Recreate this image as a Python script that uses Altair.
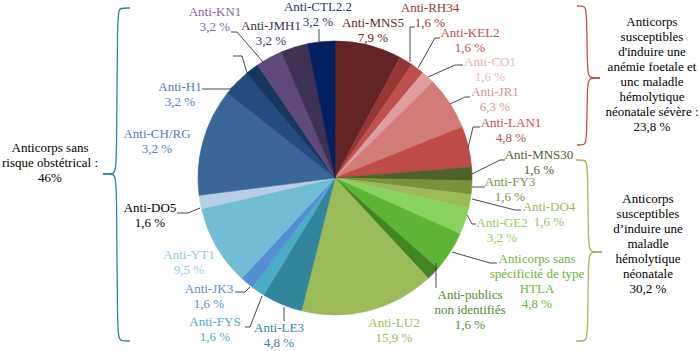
import altair as alt
import pandas as pd

# ---------------- data: pie slices, clockwise from 12 o'clock ----------------
slice_names = ["Anti-MNS5", "Anti-RH34", "Anti-KEL2", "Anti-CO1", "Anti-JR1", "Anti-LAN1",
               "Anti-MNS30", "Anti-FY3", "Anti-DO4", "Anti-GE2", "Anticorps sans spécificité HTLA",
               "Anti-publics non identifiés", "Anti-LU2",
               "Anti-LE3", "Anti-FYS", "Anti-JK3", "Anti-YT1", "Anti-DO5", "Anti-CH/RG",
               "Anti-H1", "(non étiqueté)", "Anti-KN1", "Anti-JMH1", "Anti-CTL2.2"]
slice_values = [7.9, 1.6, 1.6, 1.6, 6.3, 4.8,
                1.6, 1.6, 1.6, 3.2, 4.8, 1.6, 15.9,
                4.8, 1.6, 1.6, 9.5, 1.6, 12.7, 3.2, 1.6, 3.2, 3.2, 3.2]
slice_colors = ["#632523", "#953735", "#c0504d", "#dc9f9d", "#d27c7a", "#be4b48",
                "#4f6228", "#77933c", "#9bbb59", "#88d35f", "#5eb535", "#418524", "#9bbb59",
                "#31859c", "#4bacc6", "#558ed5", "#72bcd4", "#b9cde5", "#3a6699",
                "#234d81", "#17375e", "#604a7b", "#3f3151", "#002060"]

# ---------------- label texts ----------------
label_lines = [
    ["Anti-KN1", "3,2 %"],
    ["Anti-JMH1", "3,2 %"],
    ["Anti-CTL2.2", "3,2 %"],
    ["Anti-MNS5", "7,9 %"],
    ["Anti-RH34", "1,6 %"],
    ["Anti-KEL2", "1,6 %"],
    ["Anti-CO1", "1,6 %"],
    ["Anti-JR1", "6,3 %"],
    ["Anti-LAN1", "4,8 %"],
    ["Anti-MNS30", "1,6 %"],
    ["Anti-FY3", "1,6 %"],
    ["Anti-DO4", "1,6 %"],
    ["Anti-GE2", "3,2 %"],
    ["Anticorps sans", "spécificité de type", "HTLA", "4,8 %"],
    ["Anti-publics", "non identifiés", "1,6 %"],
    ["Anti-LU2", "15,9 %"],
    ["Anti-LE3", "4,8 %"],
    ["Anti-FYS", "1,6 %"],
    ["Anti-JK3", "1,6 %"],
    ["Anti-YT1", "9,5 %"],
    ["Anti-DO5", "1,6 %"],
    ["Anti-CH/RG", "3,2 %"],
    ["Anti-H1", "3,2 %"],
    ["Anticorps sans", "risque obstétrical :", "46%"],
    ["Anticorps", "susceptibles", "d'induire une", "anémie foetale et", "unc maladle",
     "hémolytique", "néonatale sévère :", "23,8 %"],
    ["Anticorps", "susceptibles", "d’induire une", "maladle", "hémolytique", "néonatale", "30,2 %"],
]

# ---------------- layout (positions / styles), kept apart from the data ----------------
label_pos = [(215, 12), (271, 26), (318, 7), (373, 23), (430, 8), (470, 33), (490, 62),
             (495, 92), (511, 123), (539, 155), (510, 182), (549, 207), (502, 223),
             (537, 259), (470, 295), (394, 323), (279, 328), (215, 322), (209, 289),
             (189, 255), (150, 208), (157, 134), (180, 87),
             (50, 148), (652, 22), (648, 199)]
label_colors = ["#8064a2", "#3f3151", "#1f3864", "#632523", "#953735", "#c0504d", "#e6b9b8",
                "#d99694", "#c0504d", "#4f6228", "#77933c", "#9bbb59", "#92d050",
                "#66b636", "#4f8f2c", "#9bbb59", "#31859c", "#4bacc6", "#558ed5",
                "#93cddd", "#000000", "#4f81bd", "#4f81bd",
                "#000000", "#000000", "#000000"]
LINE_H = 15

leaders = [
    [(231, 32), (237, 32), (263, 62)],
    [(319, 29), (319, 43)],
    [(233, 56), (242, 56), (247, 73)],
    [(202, 89), (230, 89), (234, 86)],
    [(415, 27), (410, 27), (410, 62)],
    [(440, 38), (435, 38), (418, 68)],
    [(463, 65), (455, 65), (428, 77)],
    [(470, 97), (465, 97), (450, 104)],
    [(480, 127), (473, 127), (468, 148)],
    [(505, 160), (500, 160), (472, 174)],
    [(485, 187), (472, 187)],
    [(521, 210), (515, 210), (472, 199)],
    [(476, 224), (472, 224), (467, 215)],
    [(497, 263), (490, 263), (452, 252)],
    [(436, 263), (436, 288)],
    [(284, 307), (284, 321)],
    [(245, 327), (250, 327), (262, 296)],
    [(235, 292), (245, 292), (250, 287)],
    [(177, 213), (188, 213), (200, 208)],
]

braces = [
    ("#31859c", [(130, 8), (120, 8), (117, 11), (117, 170), (114, 174), (103, 174)]),
    ("#31859c", [(103, 174), (114, 174), (117, 178), (117, 337), (120, 341), (130, 341)]),
    ("#c0504d", [(577, 6), (584, 6), (587, 9), (587, 74), (590, 78), (600, 78)]),
    ("#c0504d", [(600, 78), (590, 78), (587, 82), (587, 142), (584, 145), (577, 145)]),
    ("#9bbb59", [(576, 160), (585, 160), (588, 163), (588, 248), (591, 252), (602, 252)]),
    ("#9bbb59", [(602, 252), (591, 252), (588, 256), (588, 338), (585, 341), (576, 341)]),
]

W, H = 700, 351
CX, CY, R = 335, 178, 137
FONT = "'Liberation Serif', 'Times New Roman', Times, serif"

# ---------------- tables ----------------
pie_df = pd.DataFrame({"idx": list(range(len(slice_names))), "name": slice_names,
                       "value": slice_values, "color": slice_colors})

txt_rows = []
for lines, (x, y), c in zip(label_lines, label_pos, label_colors):
    for i, t in enumerate(lines):
        txt_rows.append({"x": x, "y": y + i * LINE_H, "t": t, "c": c})
txt_df = pd.DataFrame(txt_rows)

lead_rows = []
for k, pts in enumerate(leaders):
    for j, (x, y) in enumerate(pts):
        lead_rows.append({"id": k, "seq": j, "x": x, "y": y})
lead_df = pd.DataFrame(lead_rows)

brace_rows = []
for k, (c, pts) in enumerate(braces):
    for j, (x, y) in enumerate(pts):
        brace_rows.append({"id": k, "seq": j, "x": x, "y": y, "c": c})
brace_df = pd.DataFrame(brace_rows)

xs = alt.Scale(domain=[0, W], nice=False, zero=False)
ys = alt.Scale(domain=[0, H], nice=False, zero=False, reverse=True)

pie = alt.Chart(pie_df).mark_arc(radius=R, strokeWidth=0.6).encode(
    theta=alt.Theta("value:Q", stack=True),
    order=alt.Order("idx:Q", sort="ascending"),
    color=alt.Color("color:N", scale=None),
    stroke=alt.Stroke("color:N", scale=None),
    x=alt.value(CX),
    y=alt.value(CY),
)

lead = alt.Chart(lead_df).mark_line(color="#333333", strokeWidth=0.9).encode(
    x=alt.X("x:Q", scale=xs, axis=None),
    y=alt.Y("y:Q", scale=ys, axis=None),
    detail="id:N",
    order="seq:Q",
)

brace = alt.Chart(brace_df).mark_line(strokeWidth=1.3, interpolate="basis").encode(
    x=alt.X("x:Q", scale=xs, axis=None),
    y=alt.Y("y:Q", scale=ys, axis=None),
    detail="id:N",
    order="seq:Q",
    color=alt.Color("c:N", scale=None),
)

text = alt.Chart(txt_df).mark_text(font=FONT, fontSize=13,
                                   align="center", baseline="middle").encode(
    x=alt.X("x:Q", scale=xs, axis=None),
    y=alt.Y("y:Q", scale=ys, axis=None),
    text="t:N",
    color=alt.Color("c:N", scale=None),
)

chart = alt.layer(pie, lead, brace, text).properties(
    width=W, height=H, padding=0, autosize=alt.AutoSizeParams(type="none"),
    background="white",
).configure_view(stroke=None)

chart.save("out.html", embed_options={"renderer": "svg", "actions": False})
